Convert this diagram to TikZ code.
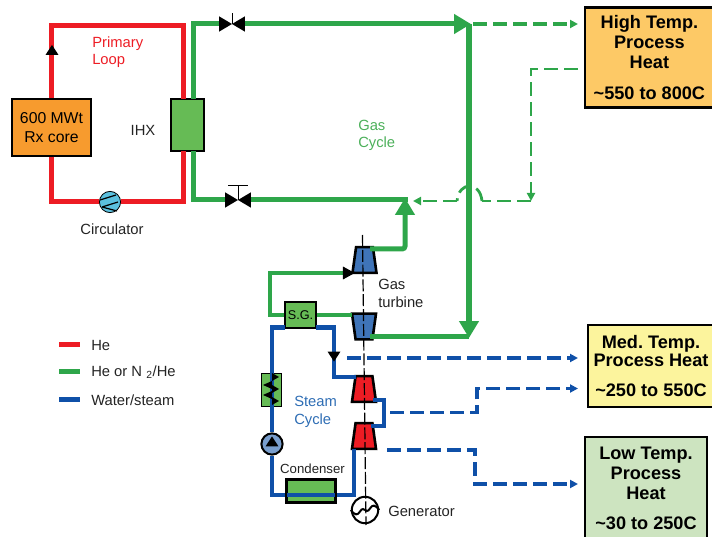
\documentclass[tikz,border=0pt]{standalone}
\usepackage{fontspec}
\setmainfont{Liberation Sans}
\usepackage{xcolor}
\usetikzlibrary{shapes.geometric, arrows.meta, positioning}
\definecolor{helium}{RGB}{237,28,36}
\definecolor{gasgreen}{RGB}{46,166,74}
\definecolor{steamblue}{RGB}{15,80,168}
\definecolor{labelgreen}{RGB}{76,176,90}
\definecolor{labelblue}{RGB}{46,109,180}
\definecolor{hxgreen}{RGB}{102,187,85}
\definecolor{coreorange}{RGB}{247,155,46}
\definecolor{highheat}{RGB}{253,201,102}
\definecolor{medheat}{RGB}{252,244,157}
\definecolor{lowheat}{RGB}{205,228,192}
\definecolor{turbblue}{RGB}{63,116,184}
\definecolor{circblue}{RGB}{91,192,222}
\definecolor{textgrey}{RGB}{35,35,35}
\tikzset{
    label/.style={font=\fontsize{10.5}{12.3}\selectfont, text=textgrey, align=left, inner sep=0pt},
    heatbox/.style={rectangle, draw, line width=0.07cm, align=center, inner sep=0pt, font=\bfseries\fontsize{12.9}{14.1}\selectfont},
    hx/.style={rectangle, draw, line width=0.035cm, fill=hxgreen, inner sep=0pt},
    heflow/.style={helium, line width=0.125cm},
    gasflow/.style={gasgreen, line width=0.125cm},
    steamflow/.style={steamblue, line width=0.115cm},
    gasheat/.style={gasgreen, line width=0.07cm, dash pattern=on 0.35cm off 0.15cm},
    steamheat/.style={steamblue, line width=0.08cm, dash pattern=on 0.35cm off 0.15cm},
    smalltip/.style={-{Triangle[length=0.2cm,width=0.2cm]}},
    bigtip/.style={-{Triangle[length=0.42cm,width=0.47cm]}},
    turbine/.style={trapezium, trapezium left angle=78, trapezium right angle=78, trapezium stretches=true, minimum width=0.6cm, minimum height=0.64cm, inner sep=0.5pt, draw, line width=0.065cm},
    valve/.style={rectangle, minimum width=0.64cm, minimum height=0.38cm, inner sep=0pt, path picture={\fill[black] (path picture bounding box.south west) -- (path picture bounding box.north east) -- (path picture bounding box.south east) -- (path picture bounding box.north west) -- cycle;}},
    pump/.style={circle, draw, minimum size=0.53cm, inner sep=0pt},
    flowmark/.style={isosceles triangle, isosceles triangle apex angle=66, fill=black, inner sep=0.3pt, minimum height=0.25cm}
}
\begin{document}
\begin{tikzpicture}[x=0.025cm, y=-0.025cm]
    \useasboundingbox (0,0) rectangle (712,537);

    % Primary Loop
    \node[hx, fill=coreorange, minimum width=1.97cm, minimum height=1.42cm, align=center, font=\fontsize{11.2}{13}\selectfont] (core) at (51.5,127.5) {600 MWt\\ Rx core};
    \node[hx, minimum width=0.82cm, minimum height=1.3cm] (ihx) at (187.5,125) {};
    \node[pump, fill=circblue, line width=0.02cm] (circulator) at (110,202) {};
    \coordinate (ihx_he_in) at (183,99);
    \coordinate (ihx_he_out) at (183,151);
    \coordinate (he_top) at (183,26);
    \draw[heflow] (core.north) |- (he_top) -- (ihx_he_in);
    \draw[heflow] (core.south) |- (circulator.west);
    \draw[heflow] (circulator.east) -| (ihx_he_out);
    \draw[line width=0.03cm] (100,200) -- (116,195) (102,207) -- (118,202) (102,207) -- (117,211);
    \node[flowmark, shape border rotate=90] (he_mark) at (52,51.5) {};

    % Gas Cycle
    \node[valve] (valve_hot) at (232,24) {};
    \node[valve] (valve_cold) at (238,200) {};
    \coordinate (ihx_gas_out) at (193,99);
    \coordinate (ihx_gas_in) at (193,151);
    \coordinate (stem_hot) at (232,13);
    \coordinate (stem_cold) at (238,186);
    \coordinate (bar_l) at (228,186);
    \coordinate (bar_r) at (248,186);
    \coordinate (gas_top) at (471,24);
    \coordinate (gas_down) at (469,338);
    \coordinate (gas_start) at (469,24);
    \coordinate (gas_apex) at (405,198);
    \coordinate (gas_mix) at (408,200);
    \node[turbine, fill=turbblue] (gt_high) at (364.5,260) {};
    \node[turbine, fill=turbblue, shape border rotate=180] (gt_low) at (364,326.5) {};
    \node[hx, minimum width=0.78cm, minimum height=0.65cm, font=\fontsize{9}{11}\selectfont] (sg) at (300.5,315) {S.G.};
    \coordinate (gt_high_in) at (355,273);
    \coordinate (gt_high_out) at (370,249);
    \coordinate (gt_low_in) at (352,315);
    \coordinate (gt_low_out) at (370,337);
    \coordinate (gas_low) at (469,337);
    \coordinate (sg_left) at (270,315);
    \coordinate (sg_up) at (270,273);
    \draw[gasflow] (ihx_gas_out) |- (valve_hot.west);
    \draw[gasflow, bigtip] (valve_hot.east) -- (gas_top);
    \draw[gasflow] (ihx_gas_in) |- (valve_cold.west);
    \draw[gasflow] (valve_cold.east) -- (gas_mix);
    \draw[gasflow, bigtip, rounded corners=2pt] (gt_high_out) -| (gas_apex);
    \draw[gasflow] (gt_low_out) -- (gas_low);
    \draw[gasflow, line width=0.16cm, bigtip] (gas_start) -- (gas_down);
    \draw[line width=0.025cm] (valve_hot.center) -- (stem_hot);
    \draw[line width=0.025cm] (valve_cold.center) -- (stem_cold) (bar_l) -- (bar_r);
    \draw[gasflow, line width=0.1cm] (sg.east) -- (gt_low_in);
    \draw[gasflow, line width=0.1cm, -{Triangle[length=0.3cm,width=0.3cm,color=black]}] (sg.west) -- (sg_left) -- (sg_up) -- (gt_high_in);

    % Steam Cycle
    \node[hx, line width=0.02cm, minimum width=0.5cm, minimum height=0.82cm] (heater) at (271,389.5) {};
    \node[pump, fill=turbblue!70, line width=0.05cm] (feedpump) at (272,444) {};
    \node[hx, line width=0.05cm, minimum width=1.2cm, minimum height=0.57cm] (condenser) at (311,491) {};
    \node[turbine, fill=helium] (st_high) at (364,389) {};
    \node[turbine, fill=helium] (st_low) at (364,436) {};
    \node[circle, draw, line width=0.05cm, minimum size=0.66cm, inner sep=0pt] (generator) at (365,510) {};
    \coordinate (sg_steam_l) at (285,327.5);
    \coordinate (sg_steam_r) at (316,327.5);
    \coordinate (st_in) at (356,377);
    \coordinate (steam_r) at (334,327.5);
    \coordinate (xover_out) at (373,400);
    \coordinate (xover_in) at (371,426);
    \coordinate (xover_r) at (384,413);
    \coordinate (cond_in) at (288,495);
    \coordinate (cond_out) at (334,495);
    \coordinate (st_out) at (354,449);
    \draw[steamflow] (sg_steam_l) -| (feedpump.north);
    \draw[steamflow] (sg_steam_r) -- (steam_r) |- (st_in);
    \draw[steamflow] (xover_out) -| (xover_r) |- (xover_in);
    \draw[steamflow] (feedpump.south) |- (cond_in);
    \draw[steamflow] (cond_in) -- (cond_out);
    \draw[steamflow] (cond_out) -| (st_out);
    \draw[line width=0.05cm] (condenser.south west) rectangle (condenser.north east);
    \foreach \y in {377,389,401} {
        \fill (279,\y) -- (272,\y-4) -- (272,\y+4) -- cycle;
    }
    \foreach \y in {385,395} {
        \fill (263,\y) -- (272,\y-4) -- (272,\y+4) -- cycle;
    }
    \node[flowmark, shape border rotate=270] (steam_mark) at (334,355) {};
    \node[flowmark, shape border rotate=90] (pump_mark) at (272,443) {};

    % Shaft and Generator
    \coordinate (shaft_top) at (362.5,235);
    \coordinate (shaft_bot) at (366,525);
    \draw[line width=0.03cm, dash pattern=on 0.3cm off 0.07cm] (shaft_top) -- (shaft_bot);
    \draw[line width=0.05cm] (generator.west) .. controls (360,522) and (359,505) .. (generator.center) .. controls (371,515) and (370,498) .. (generator.east);

    % Process Heat
    \node[heatbox, fill=highheat, minimum width=3.22cm, minimum height=2.5cm] (high) at (649.4,57.5) {High Temp.\\ Process\\ Heat\\[0.27cm] \textasciitilde550 to 800C};
    \node[heatbox, fill=medheat, minimum width=3.15cm, minimum height=2.05cm] (med) at (651,366) {Med.\ Temp.\\[-0.04cm] Process Heat\\[0.27cm] \textasciitilde250 to 550C};
    \node[heatbox, fill=lowheat, minimum width=3.05cm, minimum height=2.57cm] (low) at (646,488.5) {Low Temp.\\ Process\\ Heat\\[0.27cm] \textasciitilde30 to 250C};
    \coordinate (high_out) at (473,24);
    \coordinate (high_in) at (578,24);
    \coordinate (high_ret) at (578,69);
    \coordinate (ret_down) at (531,201);
    \coordinate (hop_r) at (482,201);
    \coordinate (hop_l) at (457,201);
    \coordinate (ret_tip) at (413,201);
    \draw[gasheat, line width=0.09cm, smalltip] (high_out) -- (high_in);
    \draw[gasheat, smalltip] (high_ret) -| (ret_down);
    \draw[gasheat] (ret_down) -- (hop_r);
    \draw[gasheat] (hop_r) .. controls (480,181) and (459,181) .. (hop_l);
    \draw[gasheat, smalltip] (hop_l) -- (ret_tip);
    \coordinate (med_a_start) at (347,358);
    \coordinate (med_a_end) at (578,358);
    \coordinate (med_b_start) at (390,412.5);
    \coordinate (med_b_v) at (477,412.5);
    \coordinate (med_b_end) at (578,388.5);
    \coordinate (low_start) at (387,450);
    \coordinate (low_v) at (475,450);
    \coordinate (low_end) at (578,484);
    \draw[steamheat, smalltip] (med_a_start) -- (med_a_end);
    \draw[steamheat, smalltip] (med_b_start) -- (med_b_v) |- (med_b_end);
    \draw[steamheat, smalltip] (low_start) -- (low_v) |- (low_end);

    % Labels
    \node[label, text=helium, anchor=west] (primary_lbl) at (92,52) {Primary\\ Loop};
    \node[label] (ihx_lbl) at (143,130) {IHX};
    \node[label] (circ_lbl) at (112,229.5) {Circulator};
    \node[label, text=labelgreen, anchor=west] (gas_lbl) at (358,135.5) {Gas\\ Cycle};
    \node[label, anchor=west] (turbine_lbl) at (378,293.5) {Gas\\ turbine};
    \node[label, text=labelblue, anchor=west] (steam_lbl) at (294,412) {Steam\\ Cycle};
    \node[label, font=\fontsize{9.4}{11}\selectfont] (cond_lbl) at (312.5,469) {Condenser};
    \node[label, anchor=west] (gen_lbl) at (388,511) {Generator};

    % Legend
    \coordinate (leg_a) at (59,345);
    \coordinate (leg_b) at (59,372);
    \coordinate (leg_c) at (59,400);
    \node[label, anchor=west] (he_lbl) at (91,345) {He};
    \node[label, anchor=west] (mix_lbl) at (91,372) {He or N\;\textsubscript{2}/He};
    \node[label, anchor=west] (water_lbl) at (91,400) {Water/steam};
    \coordinate (leg_a_end) at (80,345);
    \coordinate (leg_b_end) at (80,372);
    \coordinate (leg_c_end) at (80,400);
    \draw[heflow] (leg_a) -- (leg_a_end);
    \draw[gasflow] (leg_b) -- (leg_b_end);
    \draw[steamflow, line width=0.125cm] (leg_c) -- (leg_c_end);
\end{tikzpicture}
\end{document}
